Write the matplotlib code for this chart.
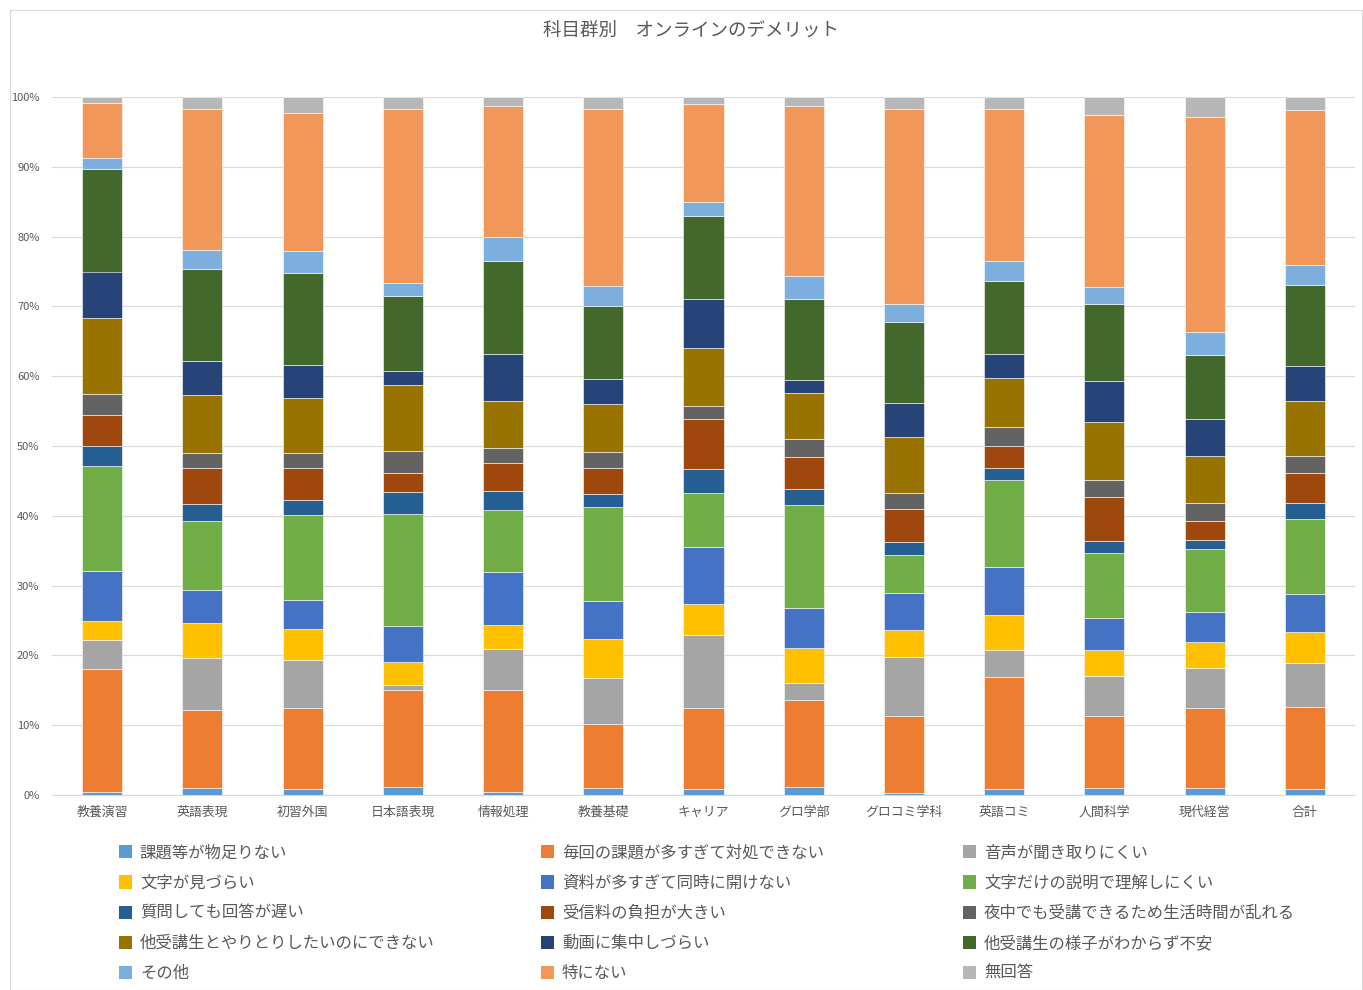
import matplotlib.pyplot as plt
from matplotlib.patches import Rectangle, Patch
import numpy as np

plt.rcParams['font.family'] = ['Noto Sans CJK JP', 'DejaVu Sans']

# ---Data (percent of each group)----
categories = ["教養演習", "英語表現", "初習外国", "日本語表現", "情報処理", "教養基礎", "キャリア",
              "グロ学部", "グロコミ学科", "英語コミ", "人間科学", "現代経営", "合計"]

series_names = [
    "課題等が物足りない", "毎回の課題が多すぎて対処できない", "音声が聞き取りにくい",
    "文字が見づらい", "資料が多すぎて同時に開けない", "文字だけの説明で理解しにくい",
    "質問しても回答が遅い", "受信料の負担が大きい", "夜中でも受講できるため生活時間が乱れる",
    "他受講生とやりとりしたいのにできない", "動画に集中しづらい", "他受講生の様子がわからず不安",
    "その他", "特にない", "無回答",
]

kadai_tarinai = [0.4, 1.0, 0.8, 1.2, 0.5, 1.0, 0.8, 1.1, 0.3, 0.9, 1.0, 1.0, 0.9]
kadai_oosugi = [17.7, 11.2, 11.7, 13.8, 14.5, 9.2, 11.7, 12.5, 11.0, 16.0, 10.3, 11.5, 11.7]
onsei = [4.1, 7.4, 6.8, 0.8, 5.9, 6.5, 10.4, 2.5, 8.4, 3.9, 5.8, 5.7, 6.3]
moji_mizurai = [2.8, 5.0, 4.5, 3.3, 3.5, 5.7, 4.5, 4.9, 4.0, 5.0, 3.7, 3.7, 4.4]
shiryo = [7.1, 4.7, 4.1, 5.1, 7.6, 5.4, 8.2, 5.8, 5.3, 6.9, 4.6, 4.3, 5.5]
moji_dake = [15.1, 9.9, 12.2, 16.1, 8.8, 13.5, 7.7, 14.8, 5.4, 12.5, 9.2, 9.1, 10.7]
shitsumon = [2.8, 2.5, 2.2, 3.1, 2.8, 1.8, 3.4, 2.3, 1.9, 1.7, 1.8, 1.2, 2.3]
jushinryo = [4.4, 5.1, 4.5, 2.8, 4.0, 3.7, 7.2, 4.5, 4.7, 3.1, 6.3, 2.8, 4.4]
yonaka = [3.1, 2.2, 2.2, 3.1, 2.1, 2.4, 1.9, 2.6, 2.3, 2.7, 2.5, 2.5, 2.4]
yaritori = [10.8, 8.3, 7.9, 9.5, 6.7, 6.8, 8.2, 6.6, 8.0, 7.0, 8.2, 6.7, 7.8]
douga = [6.7, 4.9, 4.7, 1.9, 6.8, 3.6, 7.1, 1.9, 4.9, 3.5, 5.9, 5.4, 5.0]
yousu = [14.7, 13.2, 13.2, 10.8, 13.3, 10.5, 11.8, 11.5, 11.6, 10.5, 11.1, 9.2, 11.7]
sonota = [1.5, 2.7, 3.2, 1.8, 3.4, 2.8, 2.0, 3.4, 2.6, 2.8, 2.4, 3.2, 2.8]
tokuni_nai = [8.0, 20.2, 19.7, 25.0, 18.8, 25.4, 14.1, 24.3, 27.9, 21.8, 24.6, 30.8, 22.3]
mukaito = [0.8, 1.7, 2.3, 1.7, 1.3, 1.7, 1.0, 1.3, 1.7, 1.7, 2.6, 2.9, 1.8]

series_values = [kadai_tarinai, kadai_oosugi, onsei, moji_mizurai, shiryo, moji_dake,
                 shitsumon, jushinryo, yonaka, yaritori, douga, yousu, sonota, tokuni_nai, mukaito]

colors = ["#5B9BD5", "#ED7D31", "#A5A5A5", "#FFC000", "#4472C4", "#70AD47",
          "#255E91", "#9E480E", "#636363", "#997300", "#264478", "#43682B",
          "#7CAFDD", "#F1975A", "#B7B7B7"]
# ---Data----

TEXT = "#595959"

fig = plt.figure(figsize=(13.63, 9.90), dpi=100)
ax = fig.add_axes([52 / 1363, 1 - 795 / 990, (1355 - 52) / 1363, (795 - 97) / 990])

x = np.arange(len(categories))
data = np.array(series_values, dtype=float)
totals = data.sum(axis=0)
shares = data / totals * 100  # 100% stacked

bottom = np.zeros(len(categories))
handles = []
for name, vals, col in zip(series_names, shares, colors):
    ax.bar(x, vals, 0.4, bottom=bottom, color=col, edgecolor="white",
           linewidth=0.4, label=name, zorder=3)
    handles.append(Patch(facecolor=col, label=name))
    bottom += vals

ax.set_xlim(-0.5, len(categories) - 0.5)
ax.set_ylim(0, 100)
ax.set_yticks(np.arange(0, 101, 10))
ax.set_yticklabels([f"{v}%" for v in range(0, 101, 10)])
ax.set_xticks(x)
ax.set_xticklabels(categories)
ax.tick_params(axis="both", length=0, labelsize=8, colors=TEXT)
ax.tick_params(axis="x", pad=8, labelsize=9.3)
ax.tick_params(axis="y", pad=9)
ax.grid(axis="y", color="#D9D9D9", linewidth=0.8, zorder=0)
for side in ["top", "right", "left"]:
    ax.spines[side].set_visible(False)
ax.spines["bottom"].set_color("#D9D9D9")

fig.text(0.507, 1 - 31 / 990, "科目群別　オンラインのデメリット", ha="center", va="center",
         fontsize=13.3, color=TEXT)

# legend: three columns, row-major order as in the reference
col_x = [112 / 1363, 534 / 1363, 956 / 1363]
for c in range(3):
    hs = [handles[i] for i in range(c, len(handles), 3)]
    fig.legend(handles=hs, loc="upper left", bbox_to_anchor=(col_x[c], 1 - 838 / 990),
               frameon=False, fontsize=11.8, labelcolor=TEXT, handlelength=0.85,
               handleheight=0.85, handletextpad=0.45, labelspacing=0.8, borderaxespad=0)

fig.patches.append(Rectangle((10 / 1363, 0), 1352 / 1363, 1 - 10 / 990, transform=fig.transFigure,
                             fill=False, edgecolor="#D9D9D9", linewidth=0.8))

fig.savefig("out.png", dpi=100)
